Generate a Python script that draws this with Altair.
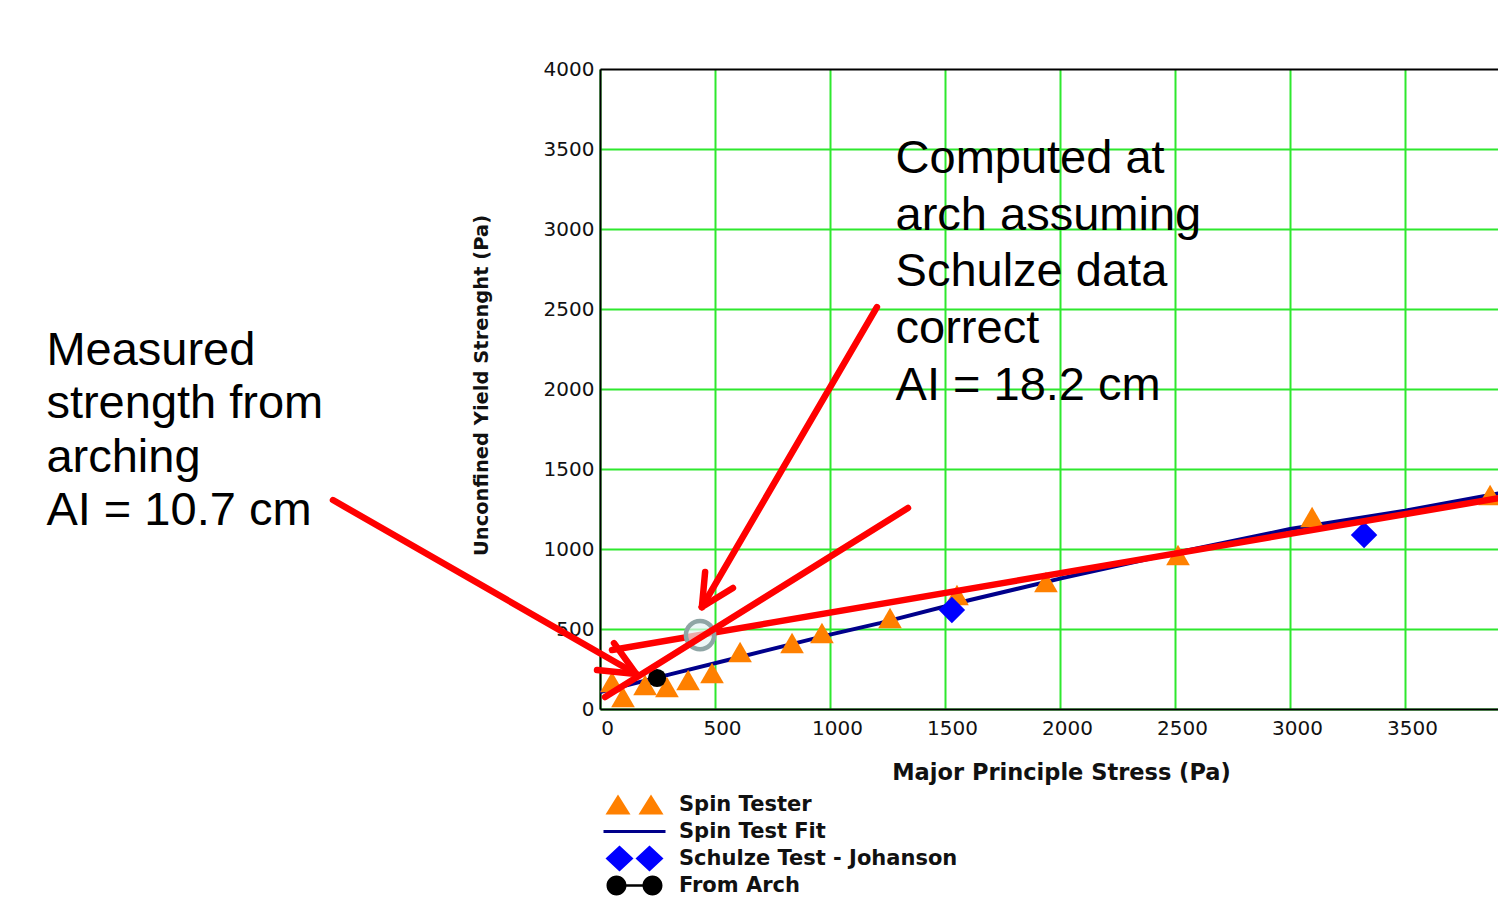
import altair as alt
import pandas as pd

# ---------------- data ----------------
spin_x = [52, 100, 196, 291, 383, 487, 609, 835, 965, 1261, 1552, 1939, 2513, 3096, 3870]
spin_y = [169, 75, 150, 138, 181, 225, 356, 412, 475, 569, 712, 794, 962, 1200, 1338]

fit_x = [0, 300, 609, 1000, 1217, 1609, 2000, 2500, 3000, 3500, 3939]
fit_y = [106, 215, 325, 465, 537, 681, 815, 975, 1125, 1240, 1356]

schulze_x = [1530, 3322]
schulze_y = [619, 1087]

arch_x = [248]
arch_y = [194]

marker_x = [435]
marker_y = [462]

x_ticks = [0, 500, 1000, 1500, 2000, 2500, 3000, 3500]
y_ticks = [0, 500, 1000, 1500, 2000, 2500, 3000, 3500, 4000]

# annotation strokes (data coordinates)
under_x = [52]
under_y = [369]
under_x2 = [4050]
under_y2 = [1353]

seg_x = [22, -1161, -13, 61, 1204, 457, 578]
seg_y = [75, 1306, 244, 412, 2512, 856, 756]
seg_x2 = [1339, 157, 157, 157, 443, 443, 443]
seg_y2 = [1256, 219, 219, 219, 637, 637, 637]

left_note = "Measured\nstrength from\narching\nAI = 10.7 cm"
right_note = "Computed at\narch assuming\nSchulze data\ncorrect\nAI = 18.2 cm"
left_note_xy = (-2407, 2381)
right_note_xy = (1285, 3581)

legend_names = ["Spin Tester", "Spin Test Fit", "Schulze Test - Johanson", "From Arch"]
legend_colors = ["#ff8000", "#00008b", "#0000ff", "#000000"]
SPACER = "M0,-1.3L0,1.3L0,-1.3Z"
legend_paths = [
    "M-2.9,1L-1.65,-1L-0.4,1ZM0.4,1L1.65,-1L2.9,1Z" + SPACER,
    "M-3.1,-0.16L3.1,-0.16L3.1,0.16L-3.1,0.16Z" + SPACER,
    "M-2.9,0L-1.5,-1.3L-0.1,0L-1.5,1.3ZM0.1,0L1.5,-1.3L2.9,0L1.5,1.3Z",
    "M-2.8,0A1,1 0 1,1 -0.8,0A1,1 0 1,1 -2.8,0ZM0.8,0A1,1 0 1,1 2.8,0A1,1 0 1,1 0.8,0Z"
    "M-1.8,-0.12L1.8,-0.12L1.8,0.12L-1.8,0.12Z" + SPACER,
]

# ---------------- tables ----------------
spin_df = pd.DataFrame({"x": spin_x, "y": spin_y})
fit_df = pd.DataFrame({"x": fit_x, "y": fit_y})
sch_df = pd.DataFrame({"x": schulze_x, "y": schulze_y})
arch_df = pd.DataFrame({"x": arch_x, "y": arch_y})
mark_df = pd.DataFrame({"x": marker_x, "y": marker_y})
under_df = pd.DataFrame({"x": under_x, "y": under_y, "x2": under_x2, "y2": under_y2})
seg_df = pd.DataFrame({"x": seg_x, "y": seg_y, "x2": seg_x2, "y2": seg_y2})
notes_l = pd.DataFrame({"x": [left_note_xy[0]], "y": [left_note_xy[1]], "t": [left_note]})
notes_r = pd.DataFrame({"x": [right_note_xy[0]], "y": [right_note_xy[1]], "t": [right_note]})
leg_df = pd.DataFrame({"x": [-500] * 4, "y": [-500] * 4, "series": legend_names})

PLOT_W = 898
PLOT_H = 640
X_MAX = PLOT_W / 0.23  # 115 px per 500 Pa

xs = alt.Scale(domain=[0, X_MAX], nice=False, zero=False)
ys = alt.Scale(domain=[0, 4000], nice=False, zero=False)

GREEN = "#2ee82e"

xaxis = alt.Axis(
    values=x_ticks, format="d", title="Major Principle Stress (Pa)", grid=True,
    gridColor=GREEN, gridWidth=2, ticks=False, labelPadding=9, labelOffset=7,
    labelFlush=False, labelOverlap=False, labelFont="DejaVu Sans", labelFontSize=20,
    labelColor="#111111", domainColor="#000000", domainWidth=2,
    titleFont="DejaVu Sans", titleFontWeight="bold", titleFontSize=22.5, titleColor="#111111",
    titleX=461, titleY=70, titleAlign="center", titleBaseline="alphabetic",
)
yaxis = alt.Axis(
    values=y_ticks, format="d", title="Unconfined Yield Strenght (Pa)", grid=True,
    gridColor={"condition": {"test": "datum.value === 4000", "value": "#000000"}, "value": GREEN},
    gridWidth=2, ticks=False, labelPadding=6, labelOverlap=False,
    labelFont="DejaVu Sans", labelFontSize=20, labelColor="#111111",
    domainColor="#000000", domainWidth=2,
    titleFont="DejaVu Sans", titleFontWeight="bold", titleFontSize=19.5, titleColor="#111111",
    titleX=-119, titleY=316, titleAngle=270, titleAlign="center", titleBaseline="middle",
)


def X(f="x"):
    return alt.X(f"{f}:Q", scale=xs, axis=xaxis)


def Y(f="y"):
    return alt.Y(f"{f}:Q", scale=ys, axis=yaxis)


fit = alt.Chart(fit_df).mark_line(color="#00008b", strokeWidth=4, clip=True).encode(x=X(), y=Y())

spin = alt.Chart(spin_df).mark_point(
    shape="triangle-up", filled=True, color="#ff8000", size=560, opacity=1, clip=True
).encode(x=X(), y=Y())

sch = alt.Chart(sch_df).mark_point(
    shape="diamond", filled=True, color="#0000ff", size=700, opacity=1, clip=True
).encode(x=X(), y=Y())

arch = alt.Chart(arch_df).mark_point(
    shape="circle", filled=True, color="#000000", size=330, opacity=1, clip=True
).encode(x=X(), y=Y())

under = alt.Chart(under_df).mark_rule(
    color="#ff0000", strokeWidth=6.5, strokeCap="round", clip=False
).encode(x=X(), y=Y(), x2="x2:Q", y2="y2:Q")

marker = alt.Chart(mark_df).mark_point(
    shape="circle", filled=False, stroke="#8fa5a5", strokeWidth=4.5, fill="#e4f4f4",
    fillOpacity=0.7, size=800, opacity=1, clip=False
).encode(x=X(), y=Y())

segs = alt.Chart(seg_df).mark_rule(
    color="#ff0000", strokeWidth=6.5, strokeCap="round", clip=False
).encode(x=X(), y=Y(), x2="x2:Q", y2="y2:Q")

txt_l = alt.Chart(notes_l).mark_text(
    align="left", baseline="top", font="Liberation Sans", fontSize=47,
    lineBreak="\n", lineHeight=53.3, color="#000000", clip=False
).encode(x=X(), y=Y(), text="t:N")

txt_r = alt.Chart(notes_r).mark_text(
    align="left", baseline="top", font="Liberation Sans", fontSize=47,
    lineBreak="\n", lineHeight=56.7, color="#000000", clip=False
).encode(x=X(), y=Y(), text="t:N")

leg = alt.Legend(
    title=None, orient="none", legendX=24, legendY=725, padding=0,
    symbolSize=400, symbolStrokeWidth=0, labelOffset=34, rowPadding=0,
    labelFont="DejaVu Sans", labelFontWeight="bold", labelFontSize=21,
    labelColor="#111111", labelLimit=600, symbolOpacity=1,
)

legend_layer = alt.Chart(leg_df).mark_point(filled=True, opacity=1, clip=True).encode(
    x=X(), y=Y(),
    color=alt.Color("series:N", scale=alt.Scale(domain=legend_names, range=legend_colors), legend=leg),
    shape=alt.Shape("series:N", scale=alt.Scale(domain=legend_names, range=legend_paths), legend=leg),
)

chart = alt.layer(
    fit, spin, sch, arch, under, marker, segs, txt_l, txt_r, legend_layer
).properties(
    width=PLOT_W, height=PLOT_H,
    padding={"left": 592, "top": 61, "right": 0, "bottom": 189},
    autosize=alt.AutoSizeParams(type="none"),
).configure_view(stroke=None).configure(background="white")

chart.save("out.html", embed_options={"renderer": "svg", "actions": False})
